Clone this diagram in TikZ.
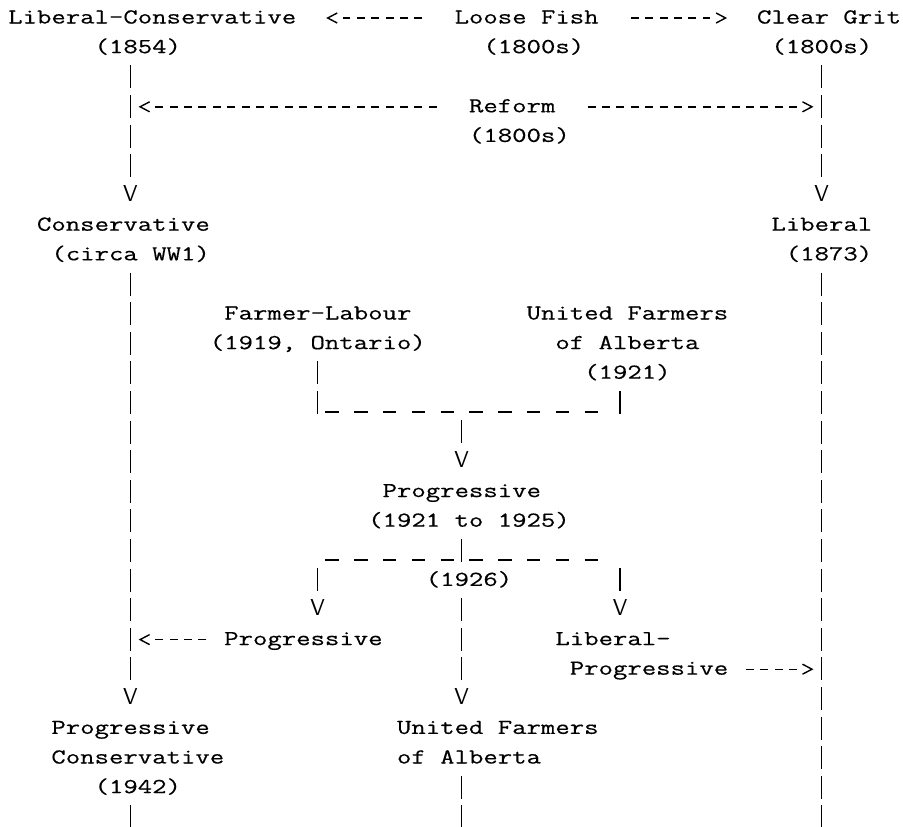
\documentclass[tikz,border=0pt]{standalone}
\usepackage{graphicx}
\usepackage{fontspec}
\usetikzlibrary{calc}
\IfFontExistsTF{lmmono12-regular.otf}
  {\newfontfamily\twf{lmmono12-regular.otf}[FakeBold=0.35]}
  {\newcommand\twf{\ttfamily}}
\newlength\chw
\newcommand\tw{\fontsize{21.3}{25}\selectfont\twf}
\newcommand\mt[1]{\scalebox{\sx}[1]{\tw #1}}
\newcommand\vglyph{\resizebox{14.5pt}{16pt}{\sffamily V}}
\def\sx{1.31}
\AtBeginDocument{%
  \settowidth{\chw}{\tw M}%
  \ifdim\chw>1pt \pgfmathsetmacro\sx{14.4/\chw}\fi}
\tikzset{
  lbl/.style={inner sep=0pt, anchor=base west, text height=13pt, text depth=6pt},
  vv/.style={inner sep=0pt, anchor=base, text height=13pt, text depth=0pt},
  bar/.style={line width=1.6pt, dash pattern=on 23pt off 6.6pt},
  hy/.style={line width=1.4pt, dash pattern=on 8pt off 6.4pt},
  us/.style={line width=1.4pt, dash pattern=on 13.5pt off 15.3pt},
  tipst/.style={line width=1.4pt, line join=miter, miter limit=4}
}
\newcommand\tipL[1]{\draw[tipst] ($(#1)+(9.5,-5)$) -- (#1) -- ($(#1)+(9.5,5)$);}
\newcommand\tipR[1]{\draw[tipst] ($(#1)+(-9.5,-5)$) -- (#1) -- ($(#1)+(-9.5,5)$);}
\begin{document}
\begin{tikzpicture}[x=1pt, y=-1pt,
  declare function={cl(\c)=8+14.4*\c; cx(\c)=15.2+14.4*\c; rb(\r)=23.5+29.6*\r;}]
\fill[white] (0,0) rectangle (903,827);
\useasboundingbox (0,0) rectangle (903,827);

% ---------- labels ----------
\node[lbl] (lc)    at ({cl(0)},{rb(0)})   {\mt{Liberal-Conservative}};
\node[lbl] (lcd)   at ({cl(6)},{rb(1)})   {\mt{(1854)}};
\node[lbl] (lf)    at ({cl(31)},{rb(0)})  {\mt{Loose Fish}};
\node[lbl] (lfd)   at ({cl(33)},{rb(1)})  {\mt{(1800s)}};
\node[lbl] (cg)    at ({cl(52)},{rb(0)})  {\mt{Clear Grit}};
\node[lbl] (cgd)   at ({cl(53)},{rb(1)})  {\mt{(1800s)}};
\node[lbl] (rf)    at ({cl(32)},{rb(3)})  {\mt{Reform}};
\node[lbl] (rfd)   at ({cl(32)},{rb(4)})  {\mt{(1800s)}};
\node[lbl] (cons)  at ({cl(2)},{rb(7)})   {\mt{Conservative}};
\node[lbl] (consd) at ({cl(3)},{rb(8)})   {\mt{(circa WW1)}};
\node[lbl] (lib)   at ({cl(53)},{rb(7)})  {\mt{Liberal}};
\node[lbl] (libd)  at ({cl(54)},{rb(8)})  {\mt{(1873)}};
\node[lbl] (fl)    at ({cl(15)},{rb(10)}) {\mt{Farmer-Labour}};
\node[lbl] (fld)   at ({cl(14)},{rb(11)}) {\mt{(1919, Ontario)}};
\node[lbl] (ufa)   at ({cl(36)},{rb(10)}) {\mt{United Farmers}};
\node[lbl] (ufab)  at ({cl(38)},{rb(11)}) {\mt{of Alberta}};
\node[lbl] (ufad)  at ({cl(40)},{rb(12)}) {\mt{(1921)}};
\node[lbl] (prog)  at ({cl(26)},{rb(16)}) {\mt{Progressive}};
\node[lbl] (progd) at ({cl(25)},{rb(17)}) {\mt{(1921 to 1925)}};
\node[lbl] (y26)   at ({cl(29)},{rb(19)}) {\mt{(1926)}};
\node[lbl] (prog2) at ({cl(15)},{rb(21)}) {\mt{Progressive}};
\node[lbl] (lp)    at ({cl(38)},{rb(21)}) {\mt{Liberal-}};
\node[lbl] (lpb)   at ({cl(39)},{rb(22)}) {\mt{Progressive}};
\node[lbl] (pc)    at ({cl(3)},{rb(24)})  {\mt{Progressive}};
\node[lbl] (pcb)   at ({cl(3)},{rb(25)})  {\mt{Conservative}};
\node[lbl] (pcd)   at ({cl(6)},{rb(26)})  {\mt{(1942)}};
\node[lbl] (ufa2)  at ({cl(27)},{rb(24)}) {\mt{United Farmers}};
\node[lbl] (ufa2b) at ({cl(27)},{rb(25)}) {\mt{of Alberta}};

% ---------- V heads ----------
\node[vv] (vL1) at ({cx(8)},{rb(6)})   {\vglyph};
\node[vv] (vR1) at ({cx(56)},{rb(6)})  {\vglyph};
\node[vv] (vC)  at ({cx(31)},{rb(15)}) {\vglyph};
\node[vv] (vA)  at ({cx(21)},{rb(20)}) {\vglyph};
\node[vv] (vB)  at ({cx(42)},{rb(20)}) {\vglyph};
\node[vv] (vL2) at ({cx(8)},{rb(23)})  {\vglyph};
\node[vv] (vD)  at ({cx(31)},{rb(23)}) {\vglyph};

% ---------- junction lines ----------
\coordinate (j1a) at ({cl(22)+0.5},{rb(13)+3.5});
\coordinate (j1b) at ({cl(40)+14},{rb(13)+3.5});
\coordinate (j2a) at ({cl(22)+0.5},{rb(18)+3.5});
\coordinate (j2b) at ({cl(40)+14},{rb(18)+3.5});
\draw[us] (j1a) -- (j1b);
\draw[us] (j2a) -- (j2b);

% ---------- vertical bars ----------
\draw[bar] ($(vL1 |- lcd.south)+(0,6.1)$) -- ($(vL1.north)+(0,-11.1)$);
\draw[bar] ($(vL1 |- consd.south)+(0,6.1)$) -- ($(vL2.north)+(0,-11.1)$);
\draw[bar] ($(vL2 |- pcd.south)+(0,6.1)$) -- ++(0,23);
\draw[bar] ($(vR1 |- cgd.south)+(0,6.1)$) -- ($(vR1.north)+(0,-11.1)$);
\draw[bar] ($(vR1 |- libd.south)+(0,6.1)$) -- ++(0,555.8);
\draw[bar] ($(vA |- fld.south)+(0,6.1)$) -- ++(0,52.6);
\draw[bar] ($(vB |- ufad.south)+(0,6.1)$) -- ++(0,23);
\draw[bar] ($(vC |- j1a)+(0,8.6)$) -- ($(vC.north)+(0,-11.1)$);
\draw[bar] ($(vC |- progd.south)+(0,6.1)$) -- ++(0,23);
\draw[bar] ($(vA |- j2a)+(0,8.6)$) -- ($(vA.north)+(0,-11.1)$);
\draw[bar] ($(vB |- j2a)+(0,8.6)$) -- ($(vB.north)+(0,-11.1)$);
\draw[bar] ($(vD |- y26.south)+(0,6.1)$) -- ($(vD.north)+(0,-11.1)$);
\draw[bar] ($(vD |- ufa2b.south)+(0,6.1)$) -- ++(0,52.6);

% ---------- horizontal arrows ----------
\draw[hy] ($(lf.base west)+(-32,-5.5)$) -- ($(lc.base east)+(46.4,-5.5)$);
\coordinate (t1) at ($(lc.base east)+(31.3,-5.5)$);
\tipL{t1}
\draw[hy] ($(lf.base east)+(32,-5.5)$) -- ($(cg.base west)+(-46.4,-5.5)$);
\coordinate (t2) at ($(cg.base west)+(-31.2,-5.5)$);
\tipR{t2}
\draw[hy] ($(rf.base west)+(-32,-5.5)$) -- ($(vL1 |- rf.base)+(24.4,-5.5)$);
\coordinate (t3) at ($(vL1 |- rf.base)+(9.7,-5.5)$);
\tipL{t3}
\draw[hy] ($(rf.base east)+(32,-5.5)$) -- ($(vR1 |- rf.base)+(-24.8,-5.5)$);
\coordinate (t4) at ($(vR1 |- rf.base)+(-9.6,-5.5)$);
\tipR{t4}
\draw[hy] ($(prog2.base west)+(-17.6,-5.5)$) -- ($(vL2 |- prog2.base)+(24.4,-5.5)$);
\coordinate (t5) at ($(vL2 |- prog2.base)+(9.7,-5.5)$);
\tipL{t5}
\draw[hy] ($(lpb.base east)+(17.6,-5.5)$) -- ($(vR1 |- lpb.base)+(-24.8,-5.5)$);
\coordinate (t6) at ($(vR1 |- lpb.base)+(-9.6,-5.5)$);
\tipR{t6}
\end{tikzpicture}
\end{document}
